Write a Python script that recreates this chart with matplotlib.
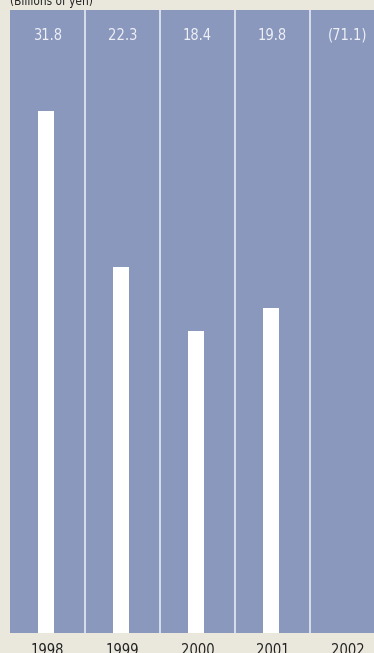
import matplotlib.pyplot as plt
from matplotlib import font_manager

years = ['1998', '1999', '2000', '2001', '2002']
values = [31.8, 22.3, 18.4, 19.8, -71.1]
labels = ['31.8', '22.3', '18.4', '19.8', '(71.1)']

names = {f.name for f in font_manager.fontManager.ttflist}
fam = ['Liberation Sans Narrow'] if 'Liberation Sans Narrow' in names else []
fam = fam + ['DejaVu Sans']

bg = '#EAE7DC'
panel = '#8A98BE'

fig = plt.figure(figsize=(3.74, 6.53), dpi=100)
fig.patch.set_facecolor(bg)
W, H = 374, 653
ax = fig.add_axes([10 / W, 20 / H, 375 / W, 623 / H])
ax.set_facecolor(panel)

x = range(len(years))
ax.bar([i - 0.015 for i in x], values, width=0.213, color='white', zorder=2)
for s in [0.5, 1.5, 2.5, 3.5]:
    ax.axvline(s, color='white', lw=1.1, alpha=0.85, zorder=1)

ax.set_xlim(-0.5, 4.5)
ax.set_ylim(0, 37.95)
for sp in ax.spines.values():
    sp.set_visible(False)
ax.set_yticks([])
ax.set_xticks(list(x))
ax.set_xticklabels(years, family=fam, stretch='condensed', fontsize=10.5, color='#222222')
ax.tick_params(axis='x', length=0, pad=7)

for i, lab in enumerate(labels):
    ax.text(i, 1 - 25 / 623, lab, transform=ax.get_xaxis_transform(), ha='center', va='center',
            family=fam, stretch='condensed', fontsize=10.5, color='#EEF0F6')

fig.text(10 / W, (H - 5) / H, '(Billions of yen)', ha='left', va='baseline',
         family=fam, stretch='condensed', fontsize=8.5, color='#222222')

plt.savefig('out.png', dpi=100, facecolor=bg)
